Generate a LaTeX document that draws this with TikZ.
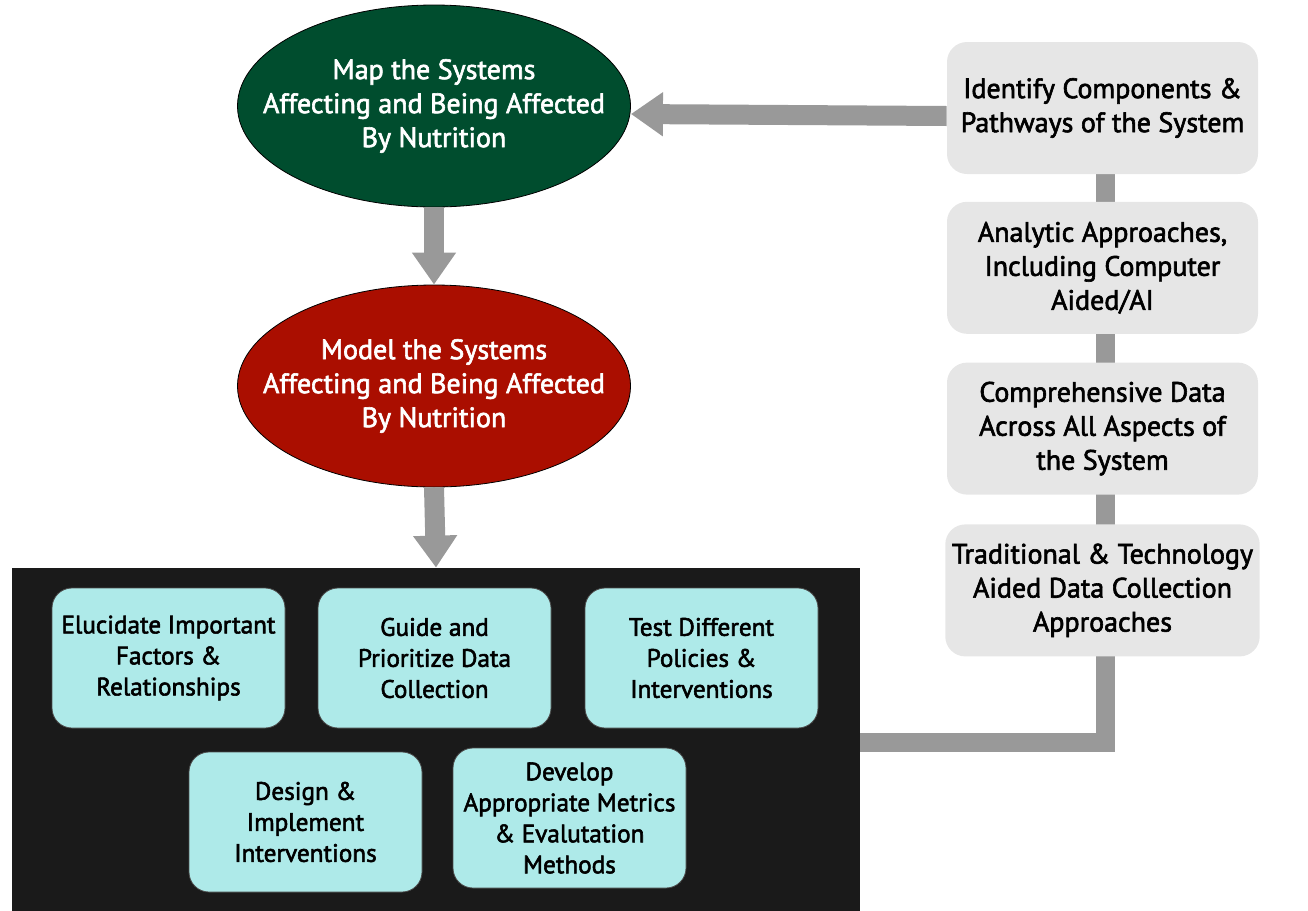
\documentclass[tikz,border=0pt]{standalone}
\usepackage{fontspec}
\setmainfont{PT Sans}[FakeBold=2.2]
\usepackage{tikz}
\usetikzlibrary{arrows.meta,positioning,shapes,backgrounds}
\definecolor{mapgreen}{RGB}{0,77,46}
\definecolor{modelred}{RGB}{170,14,0}
\definecolor{usecyan}{RGB}{174,234,233}
\definecolor{stepgray}{RGB}{230,230,230}
\definecolor{linkgray}{RGB}{153,153,153}
\definecolor{panelblack}{RGB}{26,26,26}
\tikzset{
sys_oval/.style={
	% The shape:
	ellipse,
	% The size:
	minimum width=194pt,
	minimum height=101pt,
	inner xsep=-16pt,
	inner ysep=0pt,
	% The border:
	draw=black,
	thin,
	% Font
	text=white,
	align=center,
	font=\fontsize{14}{17}\selectfont
},
step_box/.style={
	rectangle,
	rounded corners=10pt,
	minimum width=155.5pt,
	minimum height=66pt,
	fill=stepgray,
	draw=none,
	align=center,
	font=\fontsize{14}{17}\selectfont
},
use_box/.style={
	rectangle,
	rounded corners=10pt,
	minimum width=116.5pt,
	minimum height=70pt,
	fill=usecyan,
	draw=black!70,
	align=center,
	font=\fontsize{12.6}{15.5}\selectfont
},
fat_arrow/.style={
	draw=linkgray,
	line width=10pt,
	-{Triangle[width=21pt,length=16pt]}
},
fat_link/.style={draw=linkgray,line width=9.5pt}
}

\begin{document}
\begin{tikzpicture}[x=0.5pt,y=-0.5pt]
	\useasboundingbox (0,0) rectangle (1308,911);
	% systems mapping and modelling
	\node[sys_oval,fill=mapgreen] (mapsys) at (434,106) {Map the Systems\\Affecting and Being Affected\\By Nutrition};
	\node[sys_oval,fill=modelred] (modelsys) at (434,386) {Model the Systems\\Affecting and Being Affected\\By Nutrition};

	% uses of the model
	\node[rectangle,fill=panelblack,minimum width=424pt,minimum height=171.5pt,inner sep=0pt] (uses) at (436,739.5) {};
	\node[use_box] (elucid) at (168.5,658) {Elucidate Important\\Factors \&\\Relationships};
	\node[use_box] (guide) at (434.5,658) {Guide and\\Prioritize Data\\Collection};
	\node[use_box] (testpol) at (701.5,658) {Test Different\\Policies \&\\Interventions};
	\node[use_box] (design) at (305.5,822) {Design \&\\Implement\\Interventions};
	\node[use_box] (metrics) at (569.5,818) {Develop\\Appropriate Metrics\\\& Evalutation\\Methods};

	% building blocks
	\node[step_box] (idcomp) at (1102.5,108) {Identify Components \&\\Pathways of the System};
	\node[step_box] (analytic) [below=13.5pt of idcomp] {Analytic Approaches,\\Including Computer\\Aided/AI};
	\node[step_box] (compdata) [below=14pt of analytic] {Comprehensive Data\\Across All Aspects of\\the System};
	\node[step_box] (collect) [below=14.5pt of compdata] {Traditional \& Technology\\Aided Data Collection\\Approaches};

	\coordinate (bend) at (1105,742);
	\begin{scope}[on background layer]
		\path[fat_link] ([xshift=1.25pt]idcomp.center) |- (bend) -- (uses.east |- bend);
	\end{scope}

	\path[fat_arrow] (mapsys.south) -- (modelsys.north);
	\path[fat_arrow] (modelsys.south) -- (uses.north);
	\path[fat_arrow] ([yshift=-4pt]idcomp.west) -- ([yshift=-4pt]mapsys.east);
\end{tikzpicture}
\end{document}
